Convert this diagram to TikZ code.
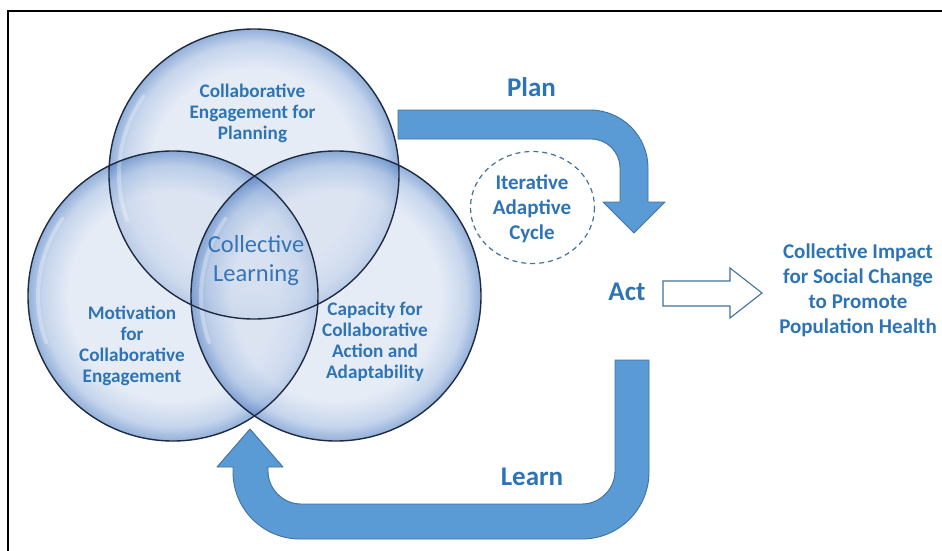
\documentclass[tikz,border=0pt]{standalone}
\usepackage{fontspec}
\setmainfont{Carlito}
\usetikzlibrary{calc}

\definecolor{txtblue}{HTML}{2E74B5}
\definecolor{softblue}{HTML}{3574B8}
\definecolor{arrowfill}{HTML}{5B9BD5}
\definecolor{arrowedge}{HTML}{41719C}
\definecolor{rimline}{HTML}{1E2B40}
\definecolor{bubin}{HTML}{D5DFF0}
\definecolor{bubmid}{HTML}{9FB9E0}
\definecolor{bubrim}{HTML}{4C7BC0}

% glassy bubble: pale core, blue rim
\pgfdeclareradialshading{bubble}{\pgfpoint{0bp}{0bp}}{%
  color(0bp)=(bubin); color(18bp)=(bubin); color(22.5bp)=(bubmid);
  color(25bp)=(bubrim); color(50bp)=(bubrim)}

\tikzset{
  lbl/.style={text=txtblue, font=\bfseries\fontsize{19.2}{21}\selectfont,
    align=center, inner sep=0pt},
  biglbl/.style={text=txtblue, font=\bfseries\fontsize{27}{30}\selectfont,
    inner sep=0pt},
  sidelbl/.style={text=txtblue, font=\bfseries\fontsize{21}{25}\selectfont,
    align=center, inner sep=0pt},
  bubblefill/.style={shading=bubble, opacity=0.6},
  bubblerim/.style={draw=rimline, line width=1.4pt},
  blockarrow/.style={fill=arrowfill, draw=arrowedge, line width=0.9pt,
    line join=round},
  hollowarrow/.style={fill=white, draw=arrowedge, line width=1.1pt},
  cycleloop/.style={draw=arrowedge, line width=1.2pt, dash pattern=on 5pt off 4pt},
}

\begin{document}
\begin{tikzpicture}[x=1pt, y=-1pt]
\useasboundingbox (0,0) rectangle (942,551);

% frame edges
\draw[line width=1.6pt, black] (8,551) -- (8,11) -- (942,11);

% the three circles
\coordinate (cT) at (254,174);
\coordinate (cL) at (173,296);
\coordinate (cR) at (336,296);
\foreach \c in {cT,cL,cR}
  \shade[bubblefill] (\c) circle[radius=145];
\foreach \c in {cT,cL,cR}
  \draw[white, opacity=0.3, line width=4pt, line cap=round]
    ($(\c)+(160:135)$) arc[start angle=160, end angle=215, radius=135];
\foreach \c in {cT,cL,cR}
  \draw[bubblerim] (\c) circle[radius=145];

% circle labels
\node[lbl] (planning) at (252.5,113) {Collaborative\\Engagement for\\Planning};
\node[text=softblue, font=\fontsize{24.5}{29}\selectfont, align=center,
  inner sep=0pt] (learning) at (256,261) {Collective\\Learning};
\node[lbl] (motivation) at (132,346) {Motivation\\for\\Collaborative\\Engagement};
\node[lbl] (capacity) at (375,342) {Capacity for\\Collaborative\\Action and\\Adaptability};

% Plan arrow
\draw[blockarrow] (398,110) -- (590,110)
  .. controls (622,110) and (648,136) .. (648,168) -- (648,202)
  -- (665,202) -- (634,233) -- (603,202) -- (620,202) -- (620,168)
  .. controls (620,152) and (607,139) .. (591,139) -- (398,139) -- cycle;
\node[biglbl] (plan) at (531.5,87) {Plan};

% Learn arrow
\draw[blockarrow] (615,360) -- (649,360) -- (649,472)
  .. controls (649,509) and (619,539) .. (582,539) -- (300,539)
  .. controls (263,539) and (233,509) .. (233,472) -- (233,467)
  -- (217,467) -- (250,429) -- (283,467) -- (268,467) -- (268,471)
  .. controls (268,489) and (283,504) .. (301,504) -- (582,504)
  .. controls (600,504) and (615,489) .. (615,471) -- cycle;
\node[biglbl] (learn) at (532,477) {Learn};

% iterative cycle
\draw[cycleloop] (532.5,207.5) ellipse[x radius=62, y radius=56];
\node[sidelbl] (cycle) at (532,209) {Iterative\\Adaptive\\Cycle};

% act and outcome
\node[biglbl] (act) at (627,292) {Act};
\draw[hollowarrow] (663,281) -- (730,281) -- (730,268) -- (762,293)
  -- (730,318) -- (730,306) -- (663,306) -- cycle;
\node[sidelbl] (impact) at (858,290)
  {Collective Impact\\for Social Change\\to Promote\\Population Health};
\end{tikzpicture}
\end{document}
